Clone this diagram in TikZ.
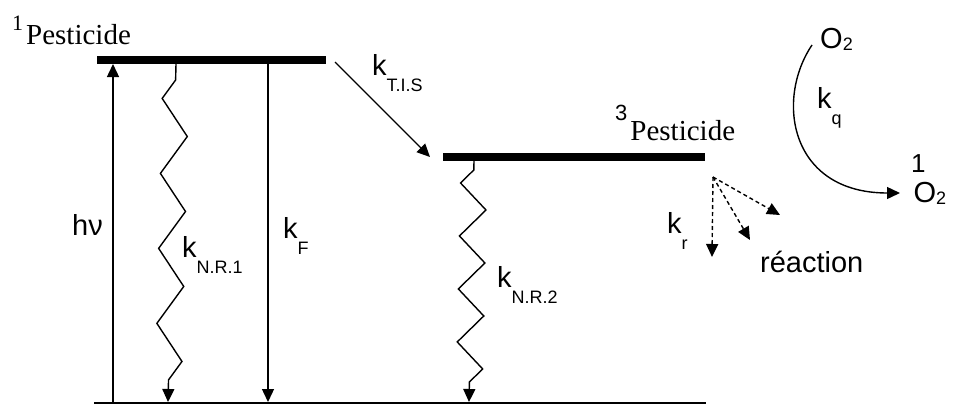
\documentclass[tikz,border=0pt]{standalone}
\usepackage{fontspec}
\setmainfont{Liberation Serif}
\setsansfont{Liberation Sans}
\usetikzlibrary{arrows.meta,decorations.pathmorphing}

\newcommand\subsz{\fontsize{18}{18}\selectfont}
\newcommand\supsz{\fontsize{22}{22}\selectfont}
\newcommand\ksub[1]{k\raisebox{-16pt}{\subsz #1}}

\begin{document}
\begin{tikzpicture}[
  x=1pt, y=-1pt,
  level/.style={line width=7.5pt},
  ground/.style={line width=1.6pt},
  trans/.style={-{Triangle[length=13pt,width=12pt]}, line width=1.4pt},
  zig/.style={trans, decorate,
              decoration={zigzag, mirror, amplitude=13pt, segment length=#1}},
  react/.style={trans, dash pattern=on 4pt off 3pt},
  serif/.style={font=\fontsize{29}{30}\selectfont, inner sep=0pt, anchor=base west},
  sans/.style={font=\sffamily\fontsize{29}{30}\selectfont, inner sep=0pt, anchor=base west}
]
  \useasboundingbox (0,0) rectangle (954,405);

  % energy levels
  \coordinate (s1l) at (97,60);   \coordinate (s1r) at (326,60);
  \coordinate (t1l) at (443,157); \coordinate (t1r) at (705,157);
  \coordinate (g0l) at (94,403);  \coordinate (g0r) at (706,403);
  \draw[level] (s1l) -- (s1r);
  \draw[level] (t1l) -- (t1r);
  \draw[ground] (g0l) -- (g0r);

  \node[serif] (s1lab) at (12,44) {\raisebox{14pt}{\supsz 1}\kern3pt Pesticide};
  \node[serif] (t1lab) at (615,140) {\raisebox{20pt}{\sffamily\supsz 3}\kern3pt Pesticide};

  % transitions
  \coordinate (hvb) at (113,402); \coordinate (hvt) at (113,64);
  \coordinate (nr1t) at (176,64); \coordinate (nr1b) at (168,402);
  \coordinate (kft) at (268,64);  \coordinate (kfb) at (268,402);
  \coordinate (tist) at (335,62); \coordinate (tisb) at (430,157);
  \coordinate (nr2t) at (474,161); \coordinate (nr2b) at (469,402);

  \draw[trans] (hvb) -- (hvt);
  \draw[zig=75pt, decoration={pre length=16pt, post length=18pt}] (nr1t) -- (nr1b);
  \draw[trans] (kft) -- (kfb);
  \draw[trans] (tist) -- (tisb);
  \draw[zig=53pt, decoration={pre length=9pt, post length=16pt}] (nr2t) -- (nr2b);

  \node[sans] (hv) at (72,235) {hν};
  \node[sans] (knr1) at (182,257) {\ksub{N.R.1}};
  \node[sans] (kf) at (283,238) {\ksub{F}};
  \node[sans] (ktis) at (372,75) {\ksub{T.I.S}};
  \node[sans] (knr2) at (497,287) {\ksub{N.R.2}};

  % reaction
  \coordinate (ro) at (713,177);
  \coordinate (r1) at (712,257);
  \coordinate (r2) at (750,240);
  \coordinate (r3) at (780,215);
  \draw[react] (ro) -- (r1);
  \draw[react] (ro) -- (r2);
  \draw[react] (ro) -- (r3);
  \node[sans] (kr) at (667,233) {\ksub{r}};
  \node[sans] (reac) at (760,272) {réaction};

  % quenching by oxygen
  \node[sans] (o2) at (820,48) {O\raisebox{-2pt}{\subsz 2}};
  \node[sans] (so2) at (911,202) {\raisebox{30pt}{\fontsize{26}{26}\selectfont 1}\kern-12pt O\raisebox{-2pt}{\subsz 2}};
  \node[sans] (kq) at (817,108) {\ksub{q}};
  \coordinate (o2a) at (812,45);
  \coordinate (o2b) at (900,193);
  \draw[trans] (o2a) .. controls (775,100) and (790,193) .. (o2b);
\end{tikzpicture}
\end{document}
